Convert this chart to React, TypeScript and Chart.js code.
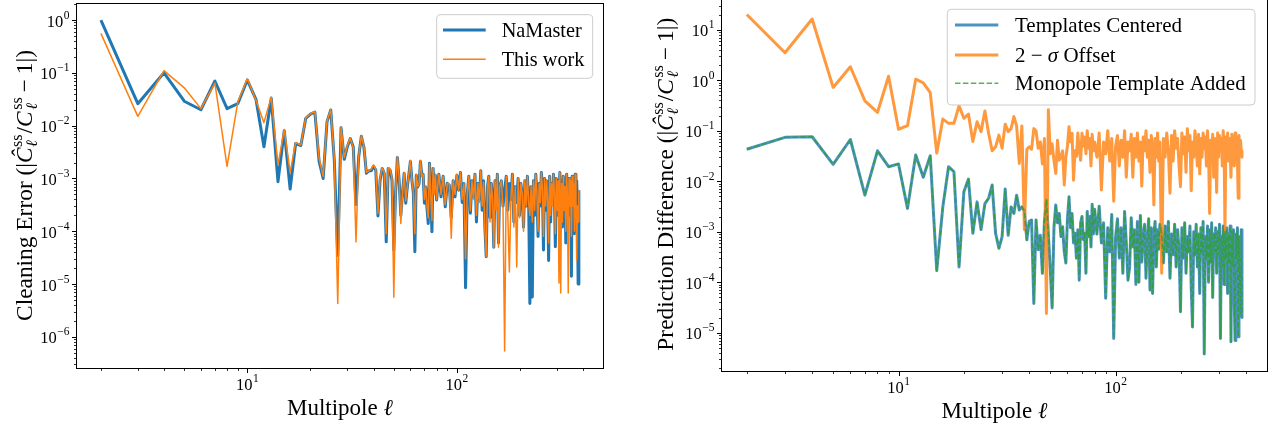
import React, { useEffect, useRef } from 'react';
import { Chart, registerables } from 'chart.js';
Chart.register(...registerables);

const SERIF = '"Liberation Serif", "DejaVu Serif", serif';

// Multipoles (x categories)
const ELL = [
  2, 3, 4, 5, 6, 7, 8, 9, 10, 11, 12, 13, 14, 15, 16, 17, 18, 19, 20, 21, 22, 23, 24, 25, 26, 27, 28, 29, 30, 31,
  32, 33, 34, 35, 36, 37, 38, 39, 40, 41, 42, 43, 44, 45, 46, 47, 48, 49, 50, 51, 52, 53, 54, 55, 56, 57, 58, 59, 60,
  61, 62, 63, 64, 65, 66, 67, 68, 69, 70, 71, 72, 73, 74, 75, 76, 77, 78, 79, 80,
  82, 84, 86, 88, 90, 92, 94, 96, 98, 100, 102, 104, 106, 108, 110, 112, 114, 116, 118, 120,
  122, 124, 126, 128, 130, 132, 134, 136, 138, 140, 142, 144, 146, 148, 150, 152, 154, 156, 158, 160,
  163, 166, 169, 172, 175, 178, 181, 184, 187, 190, 193, 196, 199, 202, 205, 208, 211, 214, 217, 220,
  223, 226, 229, 232, 235, 238, 241, 244, 247, 250, 253, 256, 259, 262, 265, 268, 271, 274, 277, 280,
  283, 286, 289, 292, 295, 298, 301, 304, 307, 310, 313, 316, 319, 322, 325, 328, 331, 334, 337, 340,
  343, 346, 349, 352, 355, 358, 361, 364, 367, 370, 373, 376, 379, 382,
];

// Left panel: cleaning error
const CLEAN_NAMASTER = [
  1.0, 0.026, 0.10, 0.029, 0.020, 0.070, 0.021, 0.026, 0.073, 0.031,
  0.0040, 0.033, 0.00087, 0.0080, 0.00063, 0.0046, 0.0042, 0.0138, 0.0165, 0.018,
  0.0021, 0.0010, 0.0119, 0.0198, 0.0022, 0.000035, 0.0091, 0.0023, 0.0040, 0.0057,
  0.0040, 0.00032, 0.0026, 0.0063, 0.0039, 0.00125, 0.0014, 0.0014, 0.0017, 0.00144,
  0.000195, 0.00093, 0.00155, 0.00125, 0.000063, 0.00155, 0.00144, 0.00093, 0.000044, 0.00056,
  0.0025, 0.00093, 0.0002, 0.00052, 0.00125, 0.00034, 0.00069, 0.0012, 0.0021, 0.00093,
  0.00052, 0.000041, 0.00115, 0.00069, 0.0008, 0.0021, 0.00115, 0.0012, 0.00034, 0.00069,
  0.00027, 0.00014, 0.00194, 0.00052, 0.000098, 0.00155, 0.00052, 0.00115, 0.00039,
  0.0012, 0.00045, 0.0011, 0.00029, 0.00081, 0.00075, 0.00018, 0.0009, 0.00045, 0.00115,
  0.0006, 0.0013, 0.00035, 0.0008, 0.0000085, 0.0005, 0.0011, 0.00022, 0.0009, 0.00045,
  0.0012, 0.00015, 0.0008, 0.0004, 0.0014, 0.00025, 0.0009, 0.00012, 0.000033, 0.0007,
  0.0011, 0.00018, 0.0008, 0.00045, 0.00005, 0.0009, 0.0003, 0.0012, 0.00006, 0.0007,
  0.0009, 0.0003, 0.0006, 0.0011, 0.00025, 0.0008, 0.0004, 0.0012, 0.00015, 0.0007,
  0.00035, 0.001, 0.0002, 0.0008, 0.0005, 0.00012, 0.0009, 0.0003, 0.0011, 0.0004,
  0.0000043, 0.0007, 0.0000057, 0.0009, 0.0002, 0.0012, 0.0005, 0.00008, 0.0008, 0.0003,
  0.0013, 0.0006, 0.000044, 0.001, 0.00025, 0.0009, 0.0004, 0.000028, 0.0011, 0.00015,
  0.0008, 0.00035, 0.0012, 0.0005, 0.000051, 0.001, 0.0002, 0.0009, 0.0003, 0.0013,
  0.0004, 0.0008, 0.00012, 0.0011, 0.0003, 0.0007, 0.00006, 0.0012, 0.0005, 0.0002,
  0.001, 0.00035, 0.0009, 0.000014, 0.0011, 0.00025, 0.0008, 0.00009, 0.0012, 0.0004,
  0.0009, 0.0003, 0.00001, 0.0006,
];
const CLEAN_THIS_WORK = [
  0.56, 0.015, 0.11, 0.052, 0.021, 0.064, 0.0017, 0.028, 0.077, 0.030,
  0.0114, 0.035, 0.0018, 0.0085, 0.0013, 0.0048, 0.0043, 0.0140, 0.0168, 0.0185,
  0.0024, 0.0011, 0.0122, 0.020, 0.0024, 0.0000043, 0.0093, 0.0025, 0.0042, 0.0058,
  0.0038, 0.000063, 0.0027, 0.0065, 0.0040, 0.0013, 0.0014, 0.0015, 0.0018, 0.0015,
  0.00022, 0.0010, 0.0016, 0.0013, 0.00009, 0.0016, 0.0015, 0.0010, 0.0000056, 0.0006,
  0.0026, 0.0010, 0.00014, 0.0005, 0.0013, 0.00038, 0.0007, 0.0012, 0.0022, 0.0009,
  0.00055, 0.00009, 0.0012, 0.0007, 0.0008, 0.0022, 0.0011, 0.0012, 0.0004, 0.0007,
  0.0003, 0.00018, 0.0019, 0.0005, 0.00016, 0.0016, 0.0005, 0.0012, 0.0004,
  0.0012, 0.0005, 0.0011, 0.00032, 0.0008, 0.0008, 0.000074, 0.0009, 0.0005, 0.0012,
  0.0006, 0.0013, 0.0004, 0.0008, 0.00003, 0.0005, 0.0011, 0.00025, 0.0009, 0.0004,
  0.0012, 0.0002, 0.0008, 0.00035, 0.0014, 0.0003, 0.00085, 0.0001, 0.000033, 0.0007,
  0.0011, 0.00015, 0.0008, 0.0004, 0.00005, 0.0009, 0.00025, 0.0012, 0.00005, 0.0007,
  0.0009, 0.00028, 0.00000054, 0.0011, 0.0002, 0.000017, 0.0004, 0.0012, 0.00012, 0.0007,
  0.000021, 0.001, 0.00018, 0.0008, 0.0005, 0.0001, 0.0009, 0.0003, 0.0011, 0.00035,
  0.0002, 0.0007, 0.00015, 0.0009, 0.00025, 0.0012, 0.0005, 0.0001, 0.0008, 0.00035,
  0.0013, 0.0006, 0.00008, 0.001, 0.0003, 0.0009, 0.0004, 0.00006, 0.0011, 0.0002,
  0.0008, 0.0003, 0.0012, 0.0005, 0.00009, 0.001, 0.00025, 0.0009, 0.0000105, 0.0013,
  0.0000068, 0.0008, 0.00015, 0.0011, 0.00025, 0.0007, 0.0001, 0.0012, 0.00045, 0.0000068,
  0.001, 0.0003, 0.0009, 0.00008, 0.0011, 0.0003, 0.0008, 0.0001, 0.0012, 0.0004,
  0.000028, 0.0003, 0.00015, 0.0006,
];

// Right panel: prediction difference
const PRED_CENTERED = [
  0.043, 0.074, 0.076, 0.0216, 0.067, 0.0053, 0.040, 0.0194, 0.022, 0.0029,
  0.033, 0.012, 0.032, 0.00017, 0.0031, 0.0194, 0.0154, 0.0002, 0.0062, 0.011,
  0.00093, 0.0039, 0.0011, 0.0036, 0.0046, 0.0084, 0.00093, 0.00047, 0.0008, 0.0070,
  0.00085, 0.0031, 0.0023, 0.0053, 0.0027, 0.0031, 0.0026, 0.00069, 0.0016, 0.0017,
  0.000038, 0.0017, 0.00044, 0.00085, 0.00015, 0.0016, 0.0043, 0.0009, 0.00018, 0.000031,
  0.0012, 0.0034, 0.0015, 0.0023, 0.0008, 0.00126, 0.0004, 0.00024, 0.0018, 0.0049,
  0.0012, 0.0023, 0.0006, 0.00093, 0.0003, 0.0011, 0.00011, 0.0015, 0.002, 0.0007,
  0.00093, 0.00015, 0.0025, 0.0008, 0.002, 0.0005, 0.0035, 0.0009, 0.0028,
  0.0009, 0.0032, 0.0006, 0.0015, 0.000048, 0.0012, 0.0004, 0.0022, 0.0000077, 0.0008,
  0.0018, 0.0003, 0.0012, 0.00015, 0.0025, 0.0006, 0.00011, 0.0002, 0.0019, 0.0005,
  0.0011, 0.00009, 0.0016, 0.0001, 0.0021, 0.00025, 0.0009, 0.0014, 0.00012, 0.0007,
  0.0018, 0.00007, 0.0012, 0.00006, 0.0009, 0.0016, 0.0002, 0.0011, 0.00045, 0.0014,
  0.0009, 0.00024, 0.0013, 0.0004, 0.0016, 0.00012, 0.0009, 0.00035, 0.0014, 0.0002,
  0.0011, 0.00045, 0.000026, 0.0012, 0.0003, 0.0015, 0.00015, 0.0008, 0.0004, 0.0013,
  0.00008, 0.000013, 0.001, 0.00035, 0.0014, 0.0002, 0.0009, 0.00006, 0.0012, 0.0004,
  0.0016, 0.0000038, 0.0008, 0.0003, 0.0013, 0.0001, 0.0011, 0.00025, 0.0015, 0.00005,
  0.0009, 0.0004, 0.0012, 0.00015, 0.001, 0.00035, 0.0014, 0.0000077, 0.0008, 0.0002,
  0.0013, 0.00009, 0.001, 0.0003, 0.0012, 0.00006, 0.0009, 0.00025, 0.0013, 0.0000066,
  0.001, 0.0002, 0.0011, 0.00004, 0.000007, 0.0009, 0.0003, 0.0012, 0.0000083, 0.0008,
  0.00015, 0.000023, 0.0011, 0.00002,
];
const PRED_OFFSET = [
  20, 3.5, 16.3, 0.72, 1.85, 0.39, 0.23, 1.2, 0.107, 0.126,
  1.05, 0.89, 0.57, 0.036, 0.17, 0.14, 0.14, 0.31, 0.176, 0.214,
  0.061, 0.15, 0.096, 0.245, 0.089, 0.040, 0.048, 0.082, 0.045, 0.135,
  0.096, 0.11, 0.19, 0.124, 0.0225, 0.124, 0.0011, 0.043, 0.048, 0.043,
  0.11, 0.10, 0.045, 0.06, 0.022, 0.07, 0.000024, 0.26, 0.035, 0.055,
  0.026, 0.0143, 0.065, 0.026, 0.031, 0.04, 0.0084, 0.03, 0.05, 0.12,
  0.06, 0.089, 0.0105, 0.04, 0.031, 0.09, 0.04, 0.026, 0.089, 0.05,
  0.075, 0.035, 0.1, 0.045, 0.07, 0.02, 0.085, 0.04, 0.06,
  0.03, 0.09, 0.0067, 0.06, 0.035, 0.1, 0.025, 0.07, 0.004, 0.05,
  0.08, 0.02, 0.065, 0.03, 0.1, 0.012, 0.06, 0.04, 0.085, 0.012,
  0.07, 0.03, 0.09, 0.025, 0.06, 0.008, 0.075, 0.04, 0.1, 0.03,
  0.065, 0.015, 0.08, 0.045, 0.0034, 0.07, 0.03, 0.09, 0.025, 0.06,
  0.00015, 0.07, 0.03, 0.09, 0.04, 0.0058, 0.08, 0.025, 0.1, 0.045,
  0.07, 0.02, 0.0078, 0.09, 0.035, 0.075, 0.015, 0.11, 0.04, 0.08,
  0.0065, 0.06, 0.03, 0.1, 0.05, 0.02, 0.085, 0.014, 0.07, 0.03,
  0.09, 0.045, 0.075, 0.02, 0.1, 0.04, 0.0023, 0.065, 0.035, 0.085,
  0.012, 0.07, 0.04, 0.006, 0.09, 0.03, 0.08, 0.045, 0.07, 0.02,
  0.1, 0.05, 0.001, 0.075, 0.035, 0.09, 0.025, 0.07, 0.04, 0.012,
  0.085, 0.03, 0.075, 0.02, 0.09, 0.04, 0.07, 0.025, 0.0046, 0.08,
  0.035, 0.065, 0.04, 0.03,
];
// The monopole-template curve coincides with the centered one
const PRED_MONOPOLE = PRED_CENTERED;

// Tick labels (powers of ten)
const X_TICK_EXPONENTS = [1, 2];
const LEFT_Y_TICK_EXPONENTS = [0, -1, -2, -3, -4, -5, -6];
const RIGHT_Y_TICK_EXPONENTS = [1, 0, -1, -2, -3, -4, -5];

const LEFT_LEGEND_LABELS = ['NaMaster', 'This work'];
const RIGHT_LEGEND_LABELS = ['Templates Centered', '2 − σ Offset', 'Monopole Template Added'];
const X_TITLE_TEXT = 'Multipole';
const ELL_SYMBOL = 'ℓ';

type Seg =
  | { t: string; font: string; gap?: number }
  | { sup: string; sub: string; font: string; subFont?: string; up: number; down: number; gap?: number };

const F = 23.4;
const ROMAN = `${F}px ${SERIF}`;
const ITALIC = `italic ${F}px ${SERIF}`;
const SMALL = `16px ${SERIF}`;
const SMALL_IT = `italic 16px ${SERIF}`;

function ratioSegs(prefix: string): Seg[] {
  return [
    { t: prefix + ' (|', font: ROMAN },
    { t: 'Ĉ', font: ITALIC, gap: 0.5 },
    { sup: 'ss', sub: ELL_SYMBOL, font: SMALL, subFont: SMALL_IT, up: 10, down: 5, gap: 1 },
    { t: '/', font: ROMAN },
    { t: 'C', font: ITALIC, gap: 1.5 },
    { sup: 'ss', sub: ELL_SYMBOL, font: SMALL, subFont: SMALL_IT, up: 10, down: 5, gap: 5 },
    { t: '−', font: ROMAN, gap: 5 },
    { t: '1|)', font: ROMAN },
  ];
}

function stackWidth(ctx: CanvasRenderingContext2D, s: any) {
  ctx.font = s.font;
  const a = ctx.measureText(s.sup).width;
  ctx.font = s.subFont || s.font;
  const b = ctx.measureText(s.sub).width;
  return Math.max(a, b);
}
function segsWidth(ctx: CanvasRenderingContext2D, segs: Seg[]) {
  let w = 0;
  for (const s of segs) {
    if ('t' in s) {
      ctx.font = s.font;
      w += ctx.measureText(s.t).width + (s.gap || 0);
    } else w += stackWidth(ctx, s) + (s.gap || 0);
  }
  return w;
}
function drawSegs(ctx: CanvasRenderingContext2D, segs: Seg[], x: number, y: number) {
  let cx = x;
  ctx.textAlign = 'left';
  ctx.textBaseline = 'alphabetic';
  for (const s of segs) {
    if ('t' in s) {
      ctx.font = s.font;
      ctx.fillText(s.t, cx, y);
      cx += ctx.measureText(s.t).width + (s.gap || 0);
    } else {
      const w = stackWidth(ctx, s);
      ctx.font = s.font;
      ctx.fillText(s.sup, cx, y - s.up);
      ctx.font = s.subFont || s.font;
      ctx.fillText(s.sub, cx, y + s.down);
      cx += w + (s.gap || 0);
    }
  }
}

interface Series { label: string; values: number[]; color: string; width: number; dash?: number[]; order: number }
interface Panel {
  left: number; top: number; width: number; height: number;
  pad: { left: number; right: number; top: number; bottom: number };
  xMin: number; xMax: number; yMin: number; yMax: number;
  yExps: number[];
  yTitle: Seg[]; yTitleX: number;
  series: Series[];
  legend: { x: number; y: number; w: number; h: number; rows: number[]; s0: number; s1: number; tx: number; font: number; labels: Seg[][] };
}

const XMIN = Math.pow(10, 0.18692);
const XMAX = Math.pow(10, 2.69731);

const LEFT_PANEL: Panel = {
  left: 0, top: 0, width: 636, height: 433,
  pad: { left: 77, right: 33, top: 3.5, bottom: 65.5 },
  xMin: XMIN, xMax: XMAX, yMin: Math.pow(10, -6.58), yMax: Math.pow(10, 0.313),
  yExps: LEFT_Y_TICK_EXPONENTS,
  yTitle: ratioSegs('Cleaning Error'), yTitleX: 31.5,
  series: [
    { label: LEFT_LEGEND_LABELS[0], values: CLEAN_NAMASTER, color: '#1f77b4', width: 3, order: 2 },
    { label: LEFT_LEGEND_LABELS[1], values: CLEAN_THIS_WORK, color: '#ff7f0e', width: 1.5, order: 1 },
  ],
  legend: {
    x: 436.7, y: 14.7, w: 156, h: 63.6, rows: [30, 59.3], s0: 443, s1: 485.7, tx: 501.7, font: 20.3,
    labels: LEFT_LEGEND_LABELS.map((t) => [{ t, font: `20.3px ${SERIF}` }]),
  },
};

const RIGHT_PANEL: Panel = {
  left: 636, top: -3, width: 636, height: 436,
  pad: { left: 86, right: 5, top: 0.6, bottom: 62.1 },
  xMin: XMIN, xMax: XMAX, yMin: Math.pow(10, -5.756), yMax: Math.pow(10, 1.636),
  yExps: RIGHT_Y_TICK_EXPONENTS,
  yTitle: ratioSegs('Prediction Difference'), yTitleX: 673,
  series: [
    { label: RIGHT_LEGEND_LABELS[0], values: PRED_CENTERED, color: 'rgba(31,119,180,0.8)', width: 3, order: 3 },
    { label: RIGHT_LEGEND_LABELS[1], values: PRED_OFFSET, color: 'rgba(255,127,14,0.8)', width: 3, order: 2 },
    { label: RIGHT_LEGEND_LABELS[2], values: PRED_MONOPOLE, color: 'rgba(44,160,44,0.8)', width: 1.5, dash: [5.5, 2.4], order: 1 },
  ],
  legend: {
    x: 947.3, y: 9.3, w: 307.7, h: 95.7, rows: [25, 55, 83.3], s0: 955, s1: 998.3, tx: 1015, font: 21,
    labels: [
      [{ t: RIGHT_LEGEND_LABELS[0], font: `21px ${SERIF}` }],
      [
        { t: '2 − ', font: `21px ${SERIF}` },
        { t: 'σ', font: `italic 21px ${SERIF}` },
        { t: ' Offset', font: `21px ${SERIF}` },
      ],
      [{ t: RIGHT_LEGEND_LABELS[2], font: `21px ${SERIF}` }],
    ],
  },
};

function roundRect(ctx: CanvasRenderingContext2D, x: number, y: number, w: number, h: number, r: number) {
  ctx.beginPath();
  ctx.moveTo(x + r, y);
  ctx.lineTo(x + w - r, y);
  ctx.quadraticCurveTo(x + w, y, x + w, y + r);
  ctx.lineTo(x + w, y + h - r);
  ctx.quadraticCurveTo(x + w, y + h, x + w - r, y + h);
  ctx.lineTo(x + r, y + h);
  ctx.quadraticCurveTo(x, y + h, x, y + h - r);
  ctx.lineTo(x, y + r);
  ctx.quadraticCurveTo(x, y, x + r, y);
  ctx.closePath();
}

function powerLabel(ctx: CanvasRenderingContext2D, exp: number) {
  ctx.font = `16.5px ${SERIF}`;
  const w10 = ctx.measureText('10').width;
  ctx.font = `11.5px ${SERIF}`;
  const es = exp < 0 ? '−' + Math.abs(exp) : String(exp);
  const we = ctx.measureText(es).width;
  return { w10, we, es, total: w10 + we + 0.5 };
}

function axesPlugin(p: Panel) {
  return {
    id: 'mplAxes',
    afterDraw(chart: any) {
      const ctx: CanvasRenderingContext2D = chart.ctx;
      const ca = chart.chartArea;
      const xs = chart.scales.x;
      const ys = chart.scales.y;
      ctx.save();
      ctx.fillStyle = '#000';
      ctx.strokeStyle = '#000';
      // frame
      ctx.lineWidth = 1;
      const L = Math.round(ca.left) - 0.5, R = Math.round(ca.right) + 0.5;
      const T = Math.round(ca.top) - 0.5, B = Math.round(ca.bottom) + 0.5;
      ctx.strokeRect(L, T, R - L, B - T);
      // x ticks
      for (let e = Math.floor(Math.log10(p.xMin)); e <= Math.ceil(Math.log10(p.xMax)); e++) {
        for (let m = 1; m <= 9; m++) {
          const v = m * Math.pow(10, e);
          if (v < p.xMin || v > p.xMax) continue;
          const px = Math.round(xs.getPixelForValue(v)) + 0.5;
          ctx.lineWidth = m === 1 ? 1 : 0.8;
          ctx.beginPath();
          ctx.moveTo(px, B);
          ctx.lineTo(px, B + (m === 1 ? 4.5 : 2.5));
          ctx.stroke();
        }
      }
      // y ticks
      for (let e = Math.floor(Math.log10(p.yMin)); e <= Math.ceil(Math.log10(p.yMax)); e++) {
        for (let m = 1; m <= 9; m++) {
          const v = m * Math.pow(10, e);
          if (v < p.yMin || v > p.yMax) continue;
          const py = Math.round(ys.getPixelForValue(v)) + 0.5;
          ctx.lineWidth = m === 1 ? 1 : 0.8;
          ctx.beginPath();
          ctx.moveTo(L, py);
          ctx.lineTo(L - (m === 1 ? 4.5 : 2.5), py);
          ctx.stroke();
        }
      }
      ctx.textAlign = 'left';
      ctx.textBaseline = 'alphabetic';
      // x tick labels
      for (const e of X_TICK_EXPONENTS) {
        const px = xs.getPixelForValue(Math.pow(10, e));
        const lab = powerLabel(ctx, e);
        const x0 = px - lab.total / 2;
        ctx.font = `16.5px ${SERIF}`;
        ctx.fillText('10', x0, B + 21.5);
        ctx.font = `11.5px ${SERIF}`;
        ctx.fillText(lab.es, x0 + lab.w10 + 0.5, B + 13.5);
      }
      // y tick labels
      for (const e of p.yExps) {
        const py = ys.getPixelForValue(Math.pow(10, e));
        const lab = powerLabel(ctx, e);
        const x0 = L - 7 - lab.total;
        ctx.font = `16.5px ${SERIF}`;
        ctx.fillText('10', x0, py + 6.5);
        ctx.font = `11.5px ${SERIF}`;
        ctx.fillText(lab.es, x0 + lab.w10 + 0.5, py - 1.5);
      }
      // x title
      const xt: Seg[] = [
        { t: X_TITLE_TEXT + ' ', font: `23px ${SERIF}` },
        { t: ELL_SYMBOL, font: `italic 23px ${SERIF}` },
      ];
      const xw = segsWidth(ctx, xt);
      drawSegs(ctx, xt, (ca.left + ca.right) / 2 - xw / 2, B + 46.5);
      // y title
      const tw = segsWidth(ctx, p.yTitle);
      ctx.save();
      ctx.translate(p.yTitleX - p.left, (ca.top + ca.bottom) / 2);
      ctx.rotate(-Math.PI / 2);
      drawSegs(ctx, p.yTitle, -tw / 2, 0);
      ctx.restore();
      // legend
      const lg = p.legend;
      const ox = p.left, oy = p.top;
      roundRect(ctx, lg.x - ox, lg.y - oy, lg.w, lg.h, 4);
      ctx.fillStyle = 'rgba(255,255,255,0.8)';
      ctx.fill();
      ctx.strokeStyle = '#cccccc';
      ctx.lineWidth = 1;
      ctx.stroke();
      p.series.forEach((s, i) => {
        const y = lg.rows[i] - oy;
        ctx.strokeStyle = s.color;
        ctx.lineWidth = s.width;
        ctx.setLineDash(s.dash || []);
        ctx.beginPath();
        ctx.moveTo(lg.s0 - ox, y);
        ctx.lineTo(lg.s1 - ox, y);
        ctx.stroke();
        ctx.setLineDash([]);
        ctx.fillStyle = '#000';
        drawSegs(ctx, lg.labels[i], lg.tx - ox, y + lg.font * 0.33);
      });
      ctx.restore();
    },
  };
}

function makeChart(canvas: HTMLCanvasElement, p: Panel) {
  return new Chart(canvas, {
    type: 'line',
    data: {
      datasets: p.series.map((s) => ({
        label: s.label,
        data: ELL.map((x, i) => ({ x, y: s.values[i] })),
        borderColor: s.color,
        borderWidth: s.width,
        borderDash: s.dash || [],
        borderJoinStyle: 'round',
        borderCapStyle: 'butt',
        fill: false,
        pointRadius: 0,
        tension: 0,
        order: s.order,
      })),
    },
    options: {
      animation: false,
      responsive: false,
      maintainAspectRatio: false,
      devicePixelRatio: 1,
      layout: { padding: p.pad },
      plugins: { legend: { display: false }, tooltip: { enabled: false } },
      scales: {
        x: { type: 'logarithmic', min: p.xMin, max: p.xMax, display: false },
        y: { type: 'logarithmic', min: p.yMin, max: p.yMax, display: false },
      },
    } as any,
    plugins: [axesPlugin(p)],
  } as any);
}

export default function App() {
  const leftRef = useRef<HTMLCanvasElement>(null);
  const rightRef = useRef<HTMLCanvasElement>(null);
  useEffect(() => {
    const charts = [makeChart(leftRef.current!, LEFT_PANEL), makeChart(rightRef.current!, RIGHT_PANEL)];
    return () => charts.forEach((c) => c.destroy());
  }, []);
  return (
    <div style={{ position: 'absolute', left: 0, top: 0, width: 1272, height: 433, overflow: 'hidden', background: '#fff' }}>
      <canvas ref={leftRef} width={636} height={433} style={{ position: 'absolute', left: 0, top: 0, width: 636, height: 433 }} />
      <canvas ref={rightRef} width={636} height={436} style={{ position: 'absolute', left: 636, top: -3, width: 636, height: 436 }} />
    </div>
  );
}
